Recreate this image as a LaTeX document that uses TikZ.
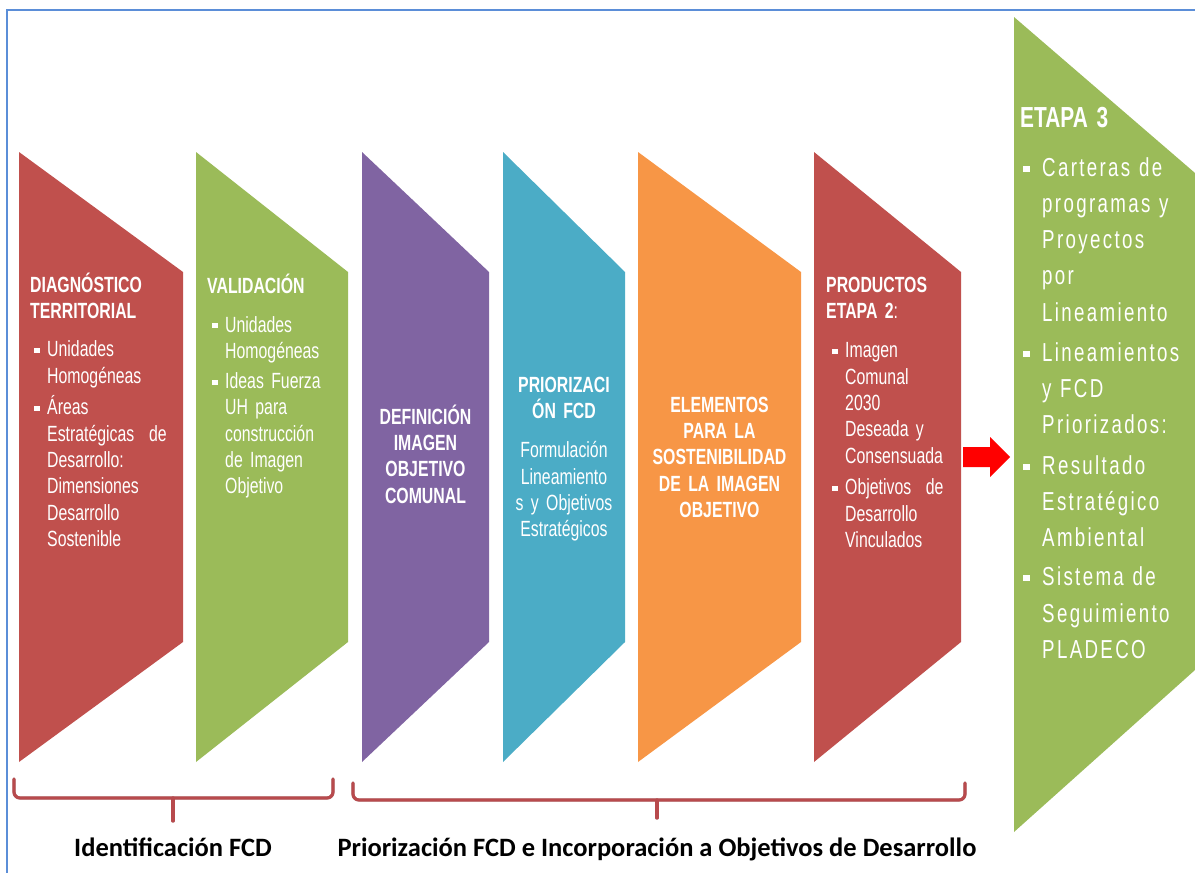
\documentclass[tikz,border=0pt]{standalone}
\usepackage{fontspec}
\setmainfont{Liberation Sans}
\newfontfamily\agency{Liberation Sans}[FakeStretch=0.72]
\newfontfamily\agencyw{Liberation Sans}[FakeStretch=0.72,LetterSpace=9]
\newfontfamily\carl{Carlito}
\definecolor{cred}{HTML}{C0504D}
\definecolor{cgreen}{HTML}{9BBB59}
\definecolor{cpurple}{HTML}{8064A2}
\definecolor{cteal}{HTML}{4BACC6}
\definecolor{corange}{HTML}{F79646}
\definecolor{cbrace}{HTML}{B84A4D}
\definecolor{cframe}{HTML}{5B8ED8}
\definecolor{carrow}{HTML}{FF0000}
\newcommand\sqb{\rule[0.17em]{0.28em}{0.23em}}
% #1 space before, #2 bullet offset, #3 hanging indent, #4 text
\newcommand\bi[4]{\par\vspace{#1}\noindent\hangindent=#3\hangafter=1\makebox[#3][l]{\hspace{#2}\sqb}#4}
\newcommand\chev[3]{\fill[#3] (#1,152) -- (#2,272) -- (#2,642) -- (#1,762) -- cycle;}
\begin{document}
\begin{tikzpicture}[x=1pt,y=-1pt,
  txt/.style={inner sep=0pt, text=white, anchor=north west, align=left,
    font=\agency\fontsize{22}{26.3}\selectfont},
  ctxt/.style={inner sep=0pt, text=white, anchor=north, align=center,
    font=\agency\fontsize{22}{26.3}\selectfont},
  rtxt/.style={inner sep=0pt, text=white, anchor=north west, align=left,
    font=\agencyw\fontsize{26}{36.2}\selectfont},
  lab/.style={anchor=base, inner sep=0pt, text=black,
    font=\carl\bfseries\fontsize{26.5}{30}\selectfont},
  brace/.style={cbrace, line width=3.2pt, rounded corners=6pt, line cap=round, line join=round},
  braceshadow/.style={black!25, line width=3.2pt, rounded corners=6pt, line cap=round, line join=round},
  frame/.style={cframe, line width=1.6pt}]
\useasboundingbox (0,0) rectangle (1195,873);
% frame
\draw[frame] (7,873) -- (7,10) -- (1195,10);
% shapes
\chev{19}{183}{cred}
\chev{196}{348}{cgreen}
\chev{362}{489}{cpurple}
\chev{503}{625}{cteal}
\chev{638}{801}{corange}
\chev{814}{961}{cred}
\fill[cgreen] (1014,17) -- (1195,173) -- (1195,670) -- (1014,832) -- cycle;
% arrow
\fill[carrow] (963,447) -- (990,447) -- (990,437) -- (1010,457) -- (990,477) -- (990,467) -- (963,467) -- cycle;
% texts
\node[txt, text width=153pt] (t1) at (30,271) {%
  {\bfseries\rule{0pt}{21pt}DIAGNÓSTICO\\TERRITORIAL}%
  \bi{12pt}{3.5pt}{17pt}{Unidades\newline Homogéneas}%
  \bi{5.5pt}{3.5pt}{17pt}{Áreas\newline Estratégicas\ \ de\newline Desarrollo:\newline Dimensiones\newline Desarrollo\newline Sostenible}\par};
\node[txt, text width=141pt] (t2) at (207,272) {%
  {\bfseries\rule{0pt}{21pt}VALIDACIÓN}%
  \bi{12.5pt}{5pt}{18pt}{Unidades\newline Homogéneas}%
  \bi{4pt}{5pt}{18pt}{Ideas Fuerza\newline UH para\newline construcción\newline de Imagen\newline Objetivo}\par};
\node[ctxt, text width=127pt] (t3) at (425.5,403) {%
  \bfseries\rule{0pt}{21pt}DEFINICIÓN\\IMAGEN\\OBJETIVO\\COMUNAL};
\node[ctxt, text width=122pt] (t4) at (564,371) {%
  {\bfseries\rule{0pt}{21pt}PRIORIZACI\\ÓN FCD}\par\vspace{13pt}%
  Formulación\\Lineamiento\\s y Objetivos\\Estratégicos};
\node[ctxt, text width=160pt] (t5) at (719.5,391) {%
  \bfseries\rule{0pt}{21pt}ELEMENTOS\\PARA LA\\SOSTENIBILIDAD\\DE LA IMAGEN\\OBJETIVO};
\node[txt, text width=135pt] (t6) at (826,271) {%
  {\rule{0pt}{21pt}\textbf{PRODUCTOS}\\\textbf{ETAPA 2}:}%
  \bi{13pt}{6pt}{19pt}{Imagen\newline Comunal\newline 2030\newline Deseada y\newline Consensuada}%
  \bi{5.5pt}{6pt}{19pt}{Objetivos\ \ de\newline Desarrollo\newline Vinculados}\par};
\node[rtxt, text width=180pt] (t7) at (1020,103) {%
  {\agency\fontsize{29}{36.2}\selectfont\bfseries\rule{0pt}{24pt}ETAPA 3}%
  \bi{12.8pt}{3pt}{22pt}{Carteras de\newline programas y\newline Proyectos\newline por\newline Lineamiento}%
  \bi{4pt}{3pt}{22pt}{Lineamientos\newline y FCD\newline Priorizados:}%
  \bi{4.4pt}{3pt}{22pt}{Resultado\newline Estratégico\newline Ambiental}%
  \bi{3pt}{3pt}{22pt}{Sistema de\newline Seguimiento\newline PLADECO}\par};
% braces
\coordinate (b1l) at (14,779);
\coordinate (b1r) at (333,779);
\coordinate (b1m) at (173,798);
\coordinate (b1t) at (173,821);
\coordinate (b2l) at (353,783);
\coordinate (b2r) at (965,783);
\coordinate (b2m) at (657,800);
\coordinate (b2t) at (657,818);
\begin{scope}[shift={(1.2,2.4)}]
\draw[braceshadow] (b1l) |- (b1m) -| (b1r);
\draw[braceshadow] (b1m) -- (b1t);
\draw[braceshadow] (b2l) |- (b2m) -| (b2r);
\draw[braceshadow] (b2m) -- (b2t);
\end{scope}
\draw[brace] (b1l) |- (b1m) -| (b1r);
\draw[brace] (b1m) -- (b1t);
\draw[brace] (b2l) |- (b2m) -| (b2r);
\draw[brace] (b2m) -- (b2t);
% labels
\node[lab] (l1) at (173,856) {Identificación FCD};
\node[lab] (l2) at (657,856) {Priorización FCD e Incorporación a Objetivos de Desarrollo};
\end{tikzpicture}
\end{document}
